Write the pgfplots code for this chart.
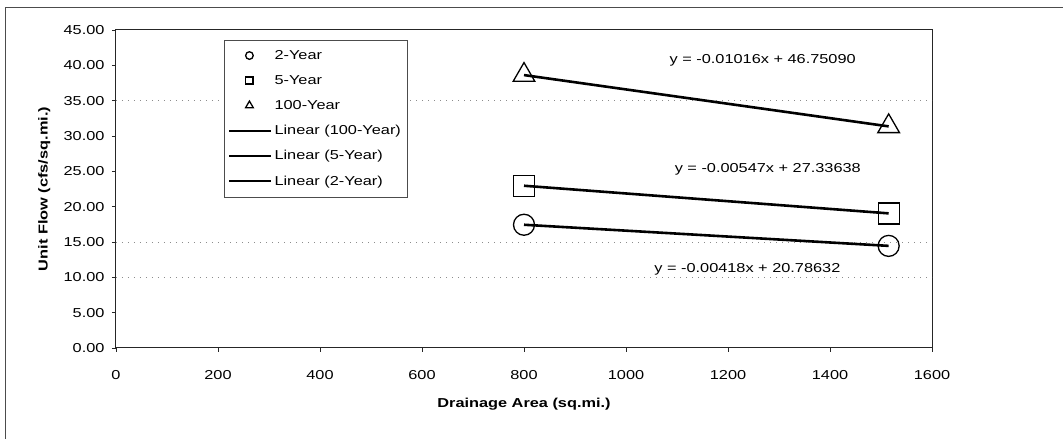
\documentclass[border=0pt]{standalone}
\usepackage{fontspec}
\setmainfont{Liberation Sans}[FakeStretch=1.26]
\usepackage{pgfplots}
\pgfplotsset{compat=1.18}

% point pairs (trend lines go through both points)
\pgfplotstableread{
x     y
800   17.44
1515  14.45
}\twoyear
\pgfplotstableread{
x     y
800   22.96
1515  19.05
}\fiveyear
\pgfplotstableread{
x     y
800   38.62
1515  31.36
}\hundredyear

\pgfplotsset{
    markleg/.style={legend image code/.code={%
        \draw[##1, mark size=#1, line width=1.3bp, solid] plot coordinates {(18bp,0bp)};}},
    lineleg/.style={legend image code/.code={%
        \draw[##1, line width=2.2bp, solid] (-2bp,0bp) -- (40bp,0bp);}},
}

\begin{document}
\begin{tikzpicture}[x=1bp,y=1bp]
\begin{axis}[
    anchor=south west,
    scale only axis,
    width=816bp, height=318bp,
    xmin=0, xmax=1600, ymin=0, ymax=45,
    xtick={0,200,...,1600},
    ytick={0,5,...,45},
    tick align=outside,
    major tick length=4bp,
    axis line style={black!85, line width=1bp},
    tick style={black!85, line width=0.6bp},
    xtick pos=bottom, ytick pos=left,
    font=\fontsize{13}{15}\selectfont,
    /pgf/number format/assume math mode=true,
    /pgf/number format/1000 sep={},
    yticklabel style={/pgf/number format/fixed, /pgf/number format/fixed zerofill,
        /pgf/number format/precision=2, xshift=-4bp},
    xticklabel style={yshift=-15bp},
    xlabel={\bfseries Drainage Area (sq.mi.)},
    ylabel={\bfseries Unit Flow (cfs/sq.mi.)},
    xlabel style={at={(axis description cs:0.5,-0.176)}, anchor=center},
    ylabel style={at={(axis description cs:-0.088,0.5)}, anchor=center},
    extra y ticks={35,15,10},
    extra y tick labels={},
    extra y tick style={major tick length=0pt, grid=major,
        major grid style={black!45, line width=0.5bp, dash pattern=on 1bp off 5bp}},
    legend style={at={(axis description cs:0.1324,0.9686)}, anchor=north west,
        draw=black!70, line width=0.6bp,
        font=\fontsize{13}{15}\selectfont,
        inner xsep=4bp, inner ysep=8bp,
        row sep=10.5bp,
        /tikz/every even column/.append style={column sep=4bp}},
    legend cell align=left,
    clip=false,
]
\addplot[only marks, mark=o, mark size=10.5bp, line width=1.3bp, black, markleg=3.8bp]
    table[x=x,y=y] {\twoyear};
\addlegendentry{2-Year}
\addplot[only marks, mark=square, mark size=10.5bp, line width=1.3bp, black, markleg=3.6bp]
    table[x=x,y=y] {\fiveyear};
\addlegendentry{5-Year}
\addplot[only marks, mark=triangle, mark size=12.5bp, line width=1.3bp, black, markleg=4.4bp]
    table[x=x,y=y] {\hundredyear};
\addlegendentry{100-Year}

\addplot[black, line width=2.6bp, no marks, lineleg] table[x=x,y=y] {\hundredyear};
\addlegendentry{Linear (100-Year)}
\addplot[black, line width=2.6bp, no marks, lineleg] table[x=x,y=y] {\fiveyear};
\addlegendentry{Linear (5-Year)}
\addplot[black, line width=2.6bp, no marks, lineleg] table[x=x,y=y] {\twoyear};
\addlegendentry{Linear (2-Year)}

\node[font=\fontsize{13}{15}\selectfont] at (axis cs:1268,40.75) {y = -0.01016x + 46.75090};
\node[font=\fontsize{13}{15}\selectfont] at (axis cs:1278,25.3) {y = -0.00547x + 27.33638};
\node[font=\fontsize{13}{15}\selectfont] at (axis cs:1238,11.2) {y = -0.00418x + 20.78632};
\end{axis}
\pgfresetboundingbox
\path[use as bounding box] (-116,-91) rectangle (947,348);
% outer chart frame (only top and left edges show in the scan)
\draw[black!70, line width=0.8bp] (-111,-91) -- (-111,341) -- (947,341);
\end{tikzpicture}
\end{document}
